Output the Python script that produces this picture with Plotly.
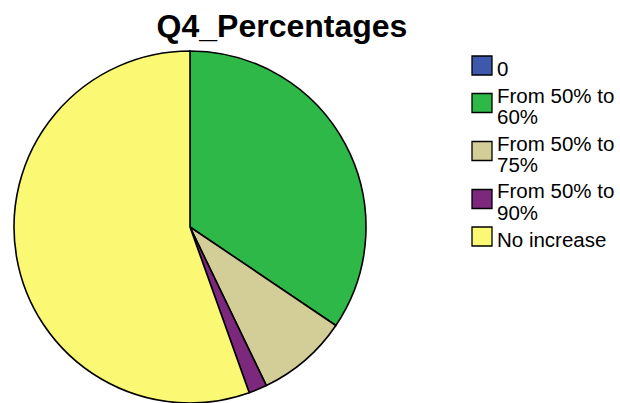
import plotly.graph_objects as go

# ---- data ----
labels = ["0", "From 50% to 60%", "From 50% to 75%", "From 50% to 90%", "No increase"]
legend_lines = [["0"], ["From 50% to", "60%"], ["From 50% to", "75%"], ["From 50% to", "90%"], ["No increase"]]
counts = [0, 41, 10, 2, 66]
colors = ["#3E58AC", "#2EB848", "#D3CE97", "#7C287D", "#FBF873"]

W, H = 620, 403
FONT = "Arial, Liberation Sans, sans-serif"

fig = go.Figure()
fig.add_trace(go.Pie(
    labels=labels,
    values=counts,
    sort=False,
    direction="clockwise",
    rotation=0,
    textinfo="none",
    showlegend=False,
    marker=dict(colors=colors, line=dict(color="black", width=1.6)),
    domain=dict(x=[14 / W, 366 / W], y=[0, 352 / H]),
))

# legend drawn by hand (SPSS style: big swatches, wrapped labels)
def py(v):
    return 1 - v / H

shapes = []
annotations = []
line_tops = [68, 95, 143, 191, 239]  # centre of first text line, px from top
line_gap = 21
for i, lines in enumerate(legend_lines):
    y0 = line_tops[i]
    for k, txt in enumerate(lines):
        annotations.append(dict(
            x=495 / W, y=py(y0 + k * line_gap), xref="paper", yref="paper",
            xanchor="left", yanchor="middle", showarrow=False, text=txt,
            font=dict(family=FONT, size=20.5, color="black"),
        ))
    mid = y0 + (len(lines) - 1) * line_gap / 2 - 2.5
    shapes.append(dict(
        type="rect", xref="paper", yref="paper",
        x0=472 / W, x1=492 / W, y0=py(mid - 9.5), y1=py(mid + 9.5),
        fillcolor=colors[i], line=dict(color="black", width=1.3),
    ))

fig.update_layout(
    width=W, height=H,
    margin=dict(l=0, r=0, t=0, b=0),
    paper_bgcolor="white",
    plot_bgcolor="white",
    title=dict(text="Q4_Percentages", x=282 / W, y=py(26), xanchor="center", yanchor="middle",
               font=dict(family=FONT, size=32, color="black", weight="bold")),
    shapes=shapes,
    annotations=annotations,
)

# page body has an 8px default margin, drop it
fig.write_html("out.html", config={"displayModeBar": False},
               post_script="document.body.style.margin='0';")
